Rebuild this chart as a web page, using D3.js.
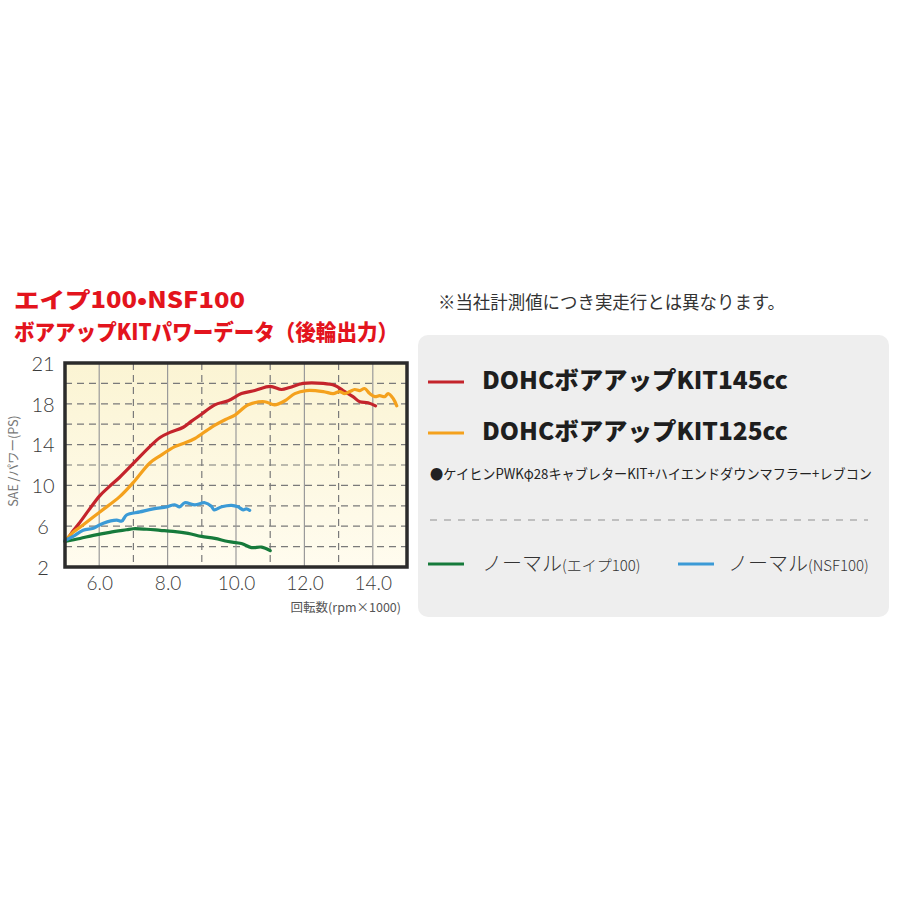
<!DOCTYPE html>
<html><head><meta charset="utf-8">
<script src="https://cdn.jsdelivr.net/npm/d3@7"></script>
<style>
html,body{margin:0;padding:0;background:#fff;}
svg{display:block;}
</style></head>
<body>
<svg id="chart" width="900" height="900"></svg>
<script>
// ---- DATA ----
const kit145Rpm = [5.05,5.25,5.44,5.7,6.02,6.3,6.6,7.04,7.48,7.78,8.07,8.46,8.7,9.0,9.38,9.77,10.16,10.55,11.0,11.33,11.57,11.96,12.55,12.89,13.13,13.42,13.62,13.86,14.08];
const kit145Ps  = [4.6,5.6,6.4,7.6,9.0,9.9,10.8,12.3,13.8,14.7,15.2,15.7,16.3,17.0,17.9,18.3,19.0,19.3,19.7,19.4,19.6,20.0,20.0,19.8,19.3,18.7,18.2,18.1,17.8];
const kit125Rpm = [5.0,5.2,5.44,6.02,6.6,7.0,7.48,7.78,8.21,8.46,8.8,9.28,9.72,9.97,10.36,10.84,11.13,11.43,11.72,12.06,12.55,12.84,13.03,13.18,13.33,13.47,13.62,13.76,13.91,14.06,14.2,14.35,14.45,14.6,14.7];
const kit125Ps  = [4.5,5.3,5.9,7.4,8.9,10.3,12.2,12.9,13.8,14.1,14.6,15.7,16.5,16.9,17.9,18.2,17.9,18.3,19.0,19.3,19.2,19.0,19.2,19.0,19.2,19.4,19.3,19.5,19.0,18.7,18.8,18.7,19.0,18.5,17.8];
const apeRpm = [5.0,5.44,5.83,6.31,6.8,7.0,7.39,7.78,8.16,8.6,8.99,9.38,9.77,10.16,10.45,10.75,11.0];
const apePs  = [4.5,4.8,5.1,5.4,5.65,5.75,5.7,5.6,5.5,5.3,5.0,4.8,4.5,4.3,3.9,3.95,3.6];
const nsfRpm = [5.0,5.24,5.53,5.83,6.12,6.51,6.66,6.8,7.19,7.58,7.97,8.21,8.35,8.5,8.8,9.09,9.28,9.36,9.58,9.87,10.06,10.21,10.3,10.4];
const nsfPs  = [4.6,5.0,5.6,5.8,6.3,6.6,6.5,7.1,7.4,7.7,7.9,8.1,7.9,8.3,8.1,8.3,7.95,7.6,7.9,8.05,7.9,7.6,7.7,7.55];

const xTickValues = [6,8,10,12,14];
const xTickLabels = ["6.0","8.0","10.0","12.0","14.0"];
const yTickValues = [2,6,10,14,18,22];
const yTickLabels = ["2","6","10","14","18","21"];
const yGridValues = [4,6,8,10,12,14,16,18,20];
const xGridSolid = [6,8,10,12,14];
const xGridDashed = [7,9,11,13];

const titleLines = ["エイプ100•NSF100","ボアアップKITパワーデータ（後輪出力）"];
const noteText = "※当社計測値につき実走行とは異なります。";
const xAxisTitle = "回転数(rpm×1000)";
const yAxisTitle = "SAE /パワー(PS)";
const series = [
  {name:"DOHCボアアップKIT145cc", rpm:kit145Rpm, ps:kit145Ps, color:"#c4242c"},
  {name:"DOHCボアアップKIT125cc", rpm:kit125Rpm, ps:kit125Ps, color:"#f4a11d"},
  {name:"ノーマル", sub:"(エイプ100)", rpm:apeRpm, ps:apePs, color:"#167a3b"},
  {name:"ノーマル", sub:"(NSF100)", rpm:nsfRpm, ps:nsfPs, color:"#3b9ad6"}
];
const kitNote = "●ケイヒンPWKφ28キャブレターKIT+ハイエンドダウンマフラー+レブコン";

// ---- DRAW ----
const svg = d3.select("#chart");
const JP = "'Noto Sans CJK JP','Noto Sans',sans-serif";
const L = 65, R = 407, T = 363, B = 567;
const x = d3.scaleLinear().domain([5,15]).range([L,R]);
const y = d3.scaleLinear().domain([2,22]).range([B,T]);

const defs = svg.append("defs");
const grad = defs.append("linearGradient").attr("id","bg").attr("x1",0).attr("y1",0).attr("x2",0).attr("y2",1);
grad.append("stop").attr("offset","0%").attr("stop-color","#fbf4d3");
grad.append("stop").attr("offset","100%").attr("stop-color","#fffcef");

svg.append("rect").attr("x",L).attr("y",T).attr("width",R-L).attr("height",B-T).attr("fill","url(#bg)");

// gridlines
svg.append("g").selectAll("line").data(yGridValues).join("line")
  .attr("x1",L).attr("x2",R).attr("y1",d=>y(d)).attr("y2",d=>y(d))
  .attr("stroke","#7a7a7a").attr("stroke-width",1.2).attr("stroke-dasharray","7,5");
svg.append("g").selectAll("line").data(xGridSolid).join("line")
  .attr("x1",d=>x(d)).attr("x2",d=>x(d)).attr("y1",T).attr("y2",B)
  .attr("stroke","#9a9a9a").attr("stroke-width",1.2);
svg.append("g").selectAll("line").data(xGridDashed).join("line")
  .attr("x1",d=>x(d)).attr("x2",d=>x(d)).attr("y1",T).attr("y2",B)
  .attr("stroke","#7a7a7a").attr("stroke-width",1.2).attr("stroke-dasharray","7,5");

// lines
const line = d3.line().x(d=>x(d[0])).y(d=>y(d[1])).curve(d3.curveCatmullRom.alpha(0.5));
series.forEach(s=>{
  svg.append("path").datum(s.rpm.map((r,i)=>[r,s.ps[i]]))
    .attr("d",line).attr("fill","none").attr("stroke",s.color)
    .attr("stroke-width",3.2).attr("stroke-linejoin","round").attr("stroke-linecap","round");
});

// frame
svg.append("rect").attr("x",L).attr("y",T).attr("width",R-L).attr("height",B-T)
  .attr("fill","none").attr("stroke","#2b2b2b").attr("stroke-width",3.5);

// axes
const xAxis = svg.append("g").attr("transform",`translate(0,${B})`)
  .call(d3.axisBottom(x).tickValues(xTickValues).tickSize(0).tickFormat((d,i)=>xTickLabels[i]));
xAxis.select(".domain").remove();
xAxis.selectAll("text").attr("dy",null).attr("y",23)
  .attr("font-family","Lato,'Noto Sans',sans-serif").attr("font-weight",300)
  .attr("font-size",19).attr("fill","#3a3a3a");

const yAxis = svg.append("g").attr("transform",`translate(43,0)`)
  .call(d3.axisLeft(y).tickValues(yTickValues).tickSize(0).tickFormat((d,i)=>yTickLabels[i]));
yAxis.select(".domain").remove();
yAxis.selectAll("text").attr("x",0).attr("text-anchor","middle").attr("dy","0.36em")
  .attr("font-family","Lato,'Noto Sans',sans-serif").attr("font-weight",300)
  .attr("font-size",20).attr("fill","#3a3a3a");

svg.append("text").attr("x",401).attr("y",612).attr("text-anchor","end")
  .attr("font-family",JP).attr("font-size",12.5).attr("fill","#555").text(xAxisTitle);
svg.append("text").attr("transform","translate(18,461) rotate(-90)").attr("text-anchor","middle")
  .attr("font-family",JP).attr("font-size",12.5).attr("fill","#777").text(yAxisTitle);

// title
svg.append("text").attr("x",14).attr("y",308).attr("font-family",JP).attr("font-weight",900)
  .attr("font-size",22).attr("fill","#e3141d").attr("textLength",231).attr("lengthAdjust","spacingAndGlyphs").text(titleLines[0]);
svg.append("text").attr("x",14).attr("y",340).attr("font-family",JP).attr("font-weight",900)
  .attr("font-size",22).attr("fill","#e3141d").attr("textLength",384).attr("lengthAdjust","spacingAndGlyphs").text(titleLines[1]);

svg.append("text").attr("x",438).attr("y",309).attr("font-family",JP)
  .attr("font-size",18).attr("fill","#333").attr("textLength",347).attr("lengthAdjust","spacingAndGlyphs").text(noteText);

// legend panel
svg.append("rect").attr("x",418).attr("y",335).attr("width",471).attr("height",282)
  .attr("rx",10).attr("fill","#eeeeee");

const legBig = [{s:series[0], y:382, tw:306}, {s:series[1], y:433, tw:306}];
legBig.forEach(o=>{
  svg.append("line").attr("x1",428).attr("x2",464).attr("y1",o.y).attr("y2",o.y)
    .attr("stroke",o.s.color).attr("stroke-width",3);
  svg.append("text").attr("x",482).attr("y",o.y+7).attr("font-family",JP).attr("font-weight",900)
    .attr("font-size",24).attr("fill","#1e1e1e").attr("textLength",o.tw).attr("lengthAdjust","spacingAndGlyphs").text(o.s.name);
});

svg.append("text").attr("x",430).attr("y",479).attr("font-family",JP)
  .attr("font-size",14).attr("fill","#222").attr("textLength",442).attr("lengthAdjust","spacingAndGlyphs").text(kitNote);

svg.append("line").attr("x1",430).attr("x2",868).attr("y1",520).attr("y2",520)
  .attr("stroke","#b0b0b0").attr("stroke-width",1.5).attr("stroke-dasharray","7,7");

const legSmall = [{s:series[2], lx:428, tx:482}, {s:series[3], lx:678, tx:728}];
legSmall.forEach(o=>{
  svg.append("line").attr("x1",o.lx).attr("x2",o.lx+36).attr("y1",564).attr("y2",564)
    .attr("stroke",o.s.color).attr("stroke-width",3);
  const t = svg.append("text").attr("x",o.tx).attr("y",571).attr("font-family",JP).attr("font-weight",300).attr("fill","#333");
  t.append("tspan").attr("font-size",20).text(o.s.name);
  t.append("tspan").attr("font-size",15).text(o.s.sub);
});
</script>
</body></html>
